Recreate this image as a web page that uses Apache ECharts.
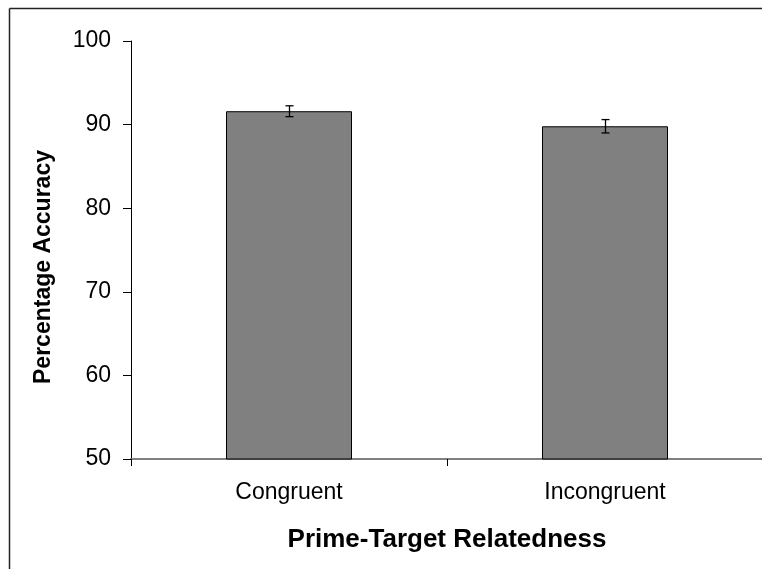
<!DOCTYPE html>
<html>
<head>
<meta charset="utf-8">
<script src="https://cdn.jsdelivr.net/npm/echarts@6/dist/echarts.min.js"></script>
<style>
html,body{margin:0;padding:0;background:#fff;overflow:hidden;}
#chart{width:762px;height:569px;}
</style>
</head>
<body>
<div id="chart"></div>
<script>
var categories = ['Congruent', 'Incongruent'];
var accuracy = [91.6, 89.8];
var errorSize = [0.65, 0.8];
var yTicks = [50, 60, 70, 80, 90, 100];
var xTitle = 'Prime-Target Relatedness';
var yTitle = 'Percentage Accuracy';

var FONT = 'Arial, "Liberation Sans", sans-serif';
var errData = categories.map(function (c, i) {
  return [i, accuracy[i] - errorSize[i], accuracy[i] + errorSize[i]];
});

var chart = echarts.init(document.getElementById('chart'), null, {renderer: 'canvas'});
chart.setOption({
  animation: false,
  backgroundColor: '#fff',
  grid: {left: 131, top: 41, width: 632, height: 418, containLabel: false, outerBoundsMode: 'none'},
  xAxis: {
    type: 'category',
    data: categories,
    name: xTitle,
    nameLocation: 'middle',
    nameGap: 68,
    nameTextStyle: {fontFamily: FONT, fontSize: 26, fontWeight: 'bold', color: '#000'},
    axisLine: {lineStyle: {color: '#808080', width: 2}},
    axisTick: {show: true, alignWithLabel: false, length: 7, inside: false, lineStyle: {color: '#000', width: 1}},
    axisLabel: {fontFamily: FONT, fontSize: 23, color: '#000', margin: 22, interval: 0},
    splitLine: {show: false}
  },
  yAxis: {
    type: 'value',
    min: yTicks[0],
    max: yTicks[yTicks.length - 1],
    interval: 10,
    axisLine: {show: true, lineStyle: {color: '#000', width: 1}},
    axisTick: {show: true, length: 8, inside: false, lineStyle: {color: '#000', width: 1}},
    axisLabel: {fontFamily: FONT, fontSize: 23, color: '#000', margin: 20},
    splitLine: {show: false}
  },
  graphic: [
    {
      type: 'line',
      silent: true,
      shape: {x1: 9.5, y1: 8.5, x2: 762, y2: 8.5},
      style: {stroke: '#222', lineWidth: 1.5},
      z: -1
    },
    {
      type: 'line',
      silent: true,
      shape: {x1: 9.5, y1: 8.5, x2: 9.5, y2: 569},
      style: {stroke: '#222', lineWidth: 1.5},
      z: -1
    },
    {
      type: 'text',
      silent: true,
      x: 44, y: 267,
      rotation: Math.PI / 2,
      style: {
        text: yTitle,
        fontFamily: FONT, fontSize: 23, fontWeight: 'bold', fill: '#000',
        align: 'center', verticalAlign: 'middle'
      }
    }
  ],
  series: [
    {
      type: 'bar',
      data: accuracy,
      barWidth: 126,
      itemStyle: {color: '#808080', borderColor: '#000', borderWidth: 1}
    },
    {
      type: 'custom',
      data: errData,
      encode: {x: 0, y: [1, 2]},
      z: 10,
      renderItem: function (params, api) {
        var x = api.value(0);
        var lo = api.coord([x, api.value(1)]);
        var hi = api.coord([x, api.value(2)]);
        var cx = Math.round(lo[0]) + 0.5;
        var hw = 4;
        var st = {stroke: '#000', lineWidth: 1.3};
        return {
          type: 'group',
          children: [
            {type: 'line', shape: {x1: cx, y1: hi[1], x2: cx, y2: lo[1]}, style: st},
            {type: 'line', shape: {x1: cx - hw, y1: hi[1], x2: cx + hw, y2: hi[1]}, style: st},
            {type: 'line', shape: {x1: cx - hw, y1: lo[1], x2: cx + hw, y2: lo[1]}, style: st}
          ]
        };
      }
    }
  ]
});
</script>
</body>
</html>
